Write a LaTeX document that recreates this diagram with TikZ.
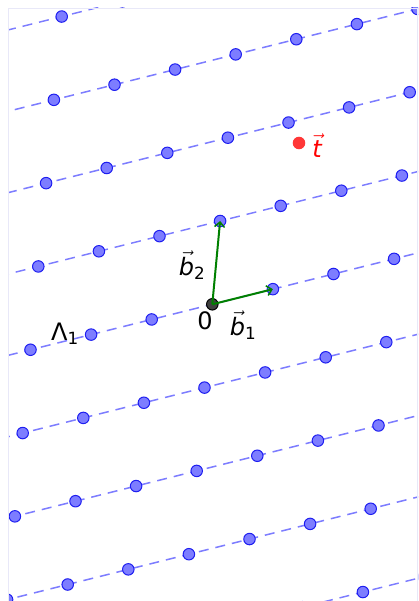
\documentclass[tikz,border=0pt]{standalone}
\usepackage{amsmath}
\usepackage{fontspec}
\setmainfont{DejaVu Sans}
\usetikzlibrary{arrows.meta}
\definecolor{linecol}{RGB}{125,125,255}
\definecolor{ptfill}{RGB}{125,125,255}
\definecolor{ptdraw}{RGB}{30,30,240}
\definecolor{framecol}{RGB}{232,232,248}
\definecolor{vecgreen}{RGB}{0,128,0}
\definecolor{tred}{RGB}{255,55,55}
\definecolor{ogray}{RGB}{64,64,64}
\begin{document}
\begin{tikzpicture}[x=1pt,y=-1pt,
  every node/.style={font=\fontsize{24}{28}\selectfont},
  lat/.style={circle,fill=ptfill,draw=ptdraw,line width=1pt,minimum size=11.5pt,inner sep=0pt},
  orig/.style={circle,fill=ogray,draw=black,line width=1pt,minimum size=11.5pt,inner sep=0pt},
  tpt/.style={circle,fill=tred,draw=tred,line width=1pt,minimum size=11.5pt,inner sep=0pt},
  latline/.style={draw=linecol,line width=1.5pt,dash pattern=on 10pt off 7pt},
  vecarrow/.style={draw=vecgreen,line width=2pt,-{Straight Barb[length=5pt,width=10pt,line width=1.5pt]}},
  framel/.style={draw=framecol,line width=1pt}]
\useasboundingbox (0,0) rectangle (418,601);
\def\ox{212.3}\def\oy{304.3}
\def\ax{60.6}\def\ay{-15.15}
\def\bx{7.8}\def\by{-83.3}
\begin{scope}
\clip (8,8) rectangle (418,601);
\foreach \j in {-4,...,4}{
  \coordinate (ls\j) at ({\ox+\j*\bx-8*\ax},{\oy+\j*\by-8*\ay});
  \coordinate (le\j) at ({\ox+\j*\bx+8*\ax},{\oy+\j*\by+8*\ay});
  \draw[latline] (ls\j) -- (le\j);
}
\foreach \j in {-4,...,4}{
  \foreach \i in {-7,...,7}{
    \pgfmathtruncatemacro\k{abs(\i)+abs(\j)}
    \ifnum\k=0\relax\else
      \node[lat] (p\i x\j) at ({\ox+\i*\ax+\j*\bx},{\oy+\i*\ay+\j*\by}) {};
    \fi
  }
}
\end{scope}
\draw[framel] (8.5,601) -- (8.5,8.5) -- (417.5,8.5) -- (417.5,601);
\node[orig] (o) at (\ox,\oy) {};
\draw[vecarrow] (o.center) -- (p1x0.center);
\draw[vecarrow] (o.center) -- (p0x1.center);
\node[tpt] (t) at (299,143) {};
\node[text=red] (tl) at (317,146) {$\vec{\textit{t}}$};
\node (zero) at (205,321) {0};
\node (b1l) at (243,325) {$\vec{\textit{b}}_{\text{1}}$};
\node (b2l) at (192,265) {$\vec{\textit{b}}_{\text{2}}$};
\node (lam) at (65,334) {Λ$_{\text{1}}$};
\end{tikzpicture}
\end{document}
